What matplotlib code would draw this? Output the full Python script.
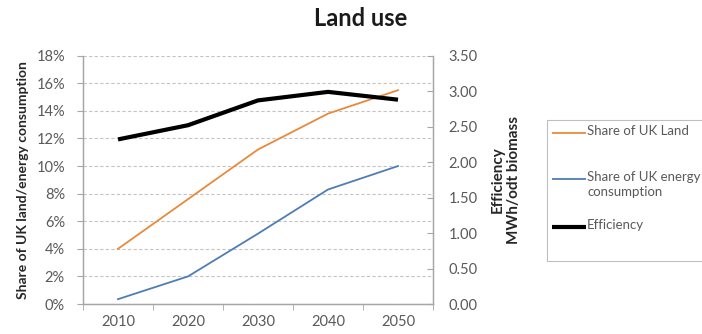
import matplotlib
matplotlib.use("Agg")
import matplotlib.pyplot as plt
from matplotlib.lines import Line2D
from matplotlib.patches import Rectangle
from matplotlib.ticker import FuncFormatter, MultipleLocator
import numpy as np

plt.rcParams['font.family'] = ['Lato', 'DejaVu Sans']

years = ['2010', '2020', '2030', '2040', '2050']
land_share = [4.0, 7.6, 11.2, 13.8, 15.5]        # % of UK land
energy_share = [0.35, 2.0, 5.1, 8.3, 10.0]       # % of UK energy consumption
efficiency = [2.32, 2.52, 2.87, 2.99, 2.88]      # MWh/odt biomass
legend_labels = ['Share of UK Land', 'Share of UK energy\nconsumption', 'Efficiency']

ORANGE = '#E8893C'
BLUE = '#4E7DB6'
GREY_TXT = '#595959'
GREY_AX = '#A6A6A6'

fig = plt.figure(figsize=(7.02, 3.34), dpi=100)
ax = fig.add_axes([83 / 702, 1 - 304 / 334, 350 / 702, (304 - 55.7) / 334])
ax2 = ax.twinx()

x = np.arange(len(years))
ax.plot(x, land_share, color=ORANGE, lw=1.3, zorder=3)
ax.plot(x, energy_share, color=BLUE, lw=1.3, zorder=3)
ax2.plot(x, efficiency, color='black', lw=3.0, solid_capstyle='butt', zorder=3)

# left axis: percentages
ax.set_ylim(0, 18)
ax.yaxis.set_major_locator(MultipleLocator(2))
ax.yaxis.set_major_formatter(FuncFormatter(lambda v, _: f'{v:.0f}%'))
ax.grid(axis='y', color='#C4C4C4', ls=(0, (3, 2)), lw=0.8)
ax.set_axisbelow(True)

# right axis: efficiency
ax2.set_ylim(0, 3.5)
ax2.yaxis.set_major_locator(MultipleLocator(0.5))
ax2.yaxis.set_major_formatter(FuncFormatter(lambda v, _: f'{v:.2f}'))

# category axis with tick marks between categories
ax.set_xlim(-0.5, len(years) - 0.5)
ax.set_xticks(x)
ax.set_xticklabels(years)
ax.set_xticks(np.arange(-0.5, len(years)), minor=True)
ax.tick_params(axis='x', which='major', length=0, pad=8, labelsize=10.5, labelcolor=GREY_TXT)
ax.tick_params(axis='x', which='minor', length=4, color=GREY_AX, direction='out')
ax.tick_params(axis='y', length=4, color=GREY_AX, pad=9, labelsize=10.5, labelcolor=GREY_TXT)
ax2.tick_params(axis='y', length=4, color=GREY_AX, direction='in', pad=11, labelsize=10.5, labelcolor=GREY_TXT)

for a in (ax, ax2):
    a.spines['top'].set_visible(False)
    for s in ('left', 'right', 'bottom'):
        a.spines[s].set_color(GREY_AX)
        a.spines[s].set_linewidth(0.9)

fig.text(0.513, 1 - 19 / 334, 'Land use', ha='center', va='center',
         fontsize=17, fontweight='bold', color='#1a1a1a')
fig.text(23 / 702, 1 - 180 / 334, 'Share of UK land/energy consumption', rotation=90,
         ha='center', va='center', fontsize=10, fontweight='bold', color='#262626')
fig.text(506 / 702, 1 - 180 / 334, 'Efficiency\nMWh/odt biomass', rotation=90,
         ha='center', va='center', fontsize=11, fontweight='bold', color='#262626',
         linespacing=1.2)

# legend box, running off the right edge
fig.patches.append(Rectangle((547 / 702, 1 - 261 / 334), 200 / 702, 141 / 334,
                             transform=fig.transFigure, fill=False,
                             edgecolor='#BFBFBF', lw=0.8))
legend_y = [133, 179, 227]
legend_style = [(ORANGE, 1.3), (BLUE, 1.3), ('black', 3.0)]
for lab, yy, (c, lw) in zip(legend_labels, legend_y, legend_style):
    fy = 1 - yy / 334
    fig.lines.append(Line2D([552 / 702, 586 / 702], [fy, fy], transform=fig.transFigure,
                            color=c, lw=lw, solid_capstyle='butt'))
    fig.text(587 / 702, fy + 0.024, lab, ha='left', va='top', fontsize=9.5,
             color=GREY_TXT, linespacing=1.3)

fig.savefig('out.png', dpi=100)
